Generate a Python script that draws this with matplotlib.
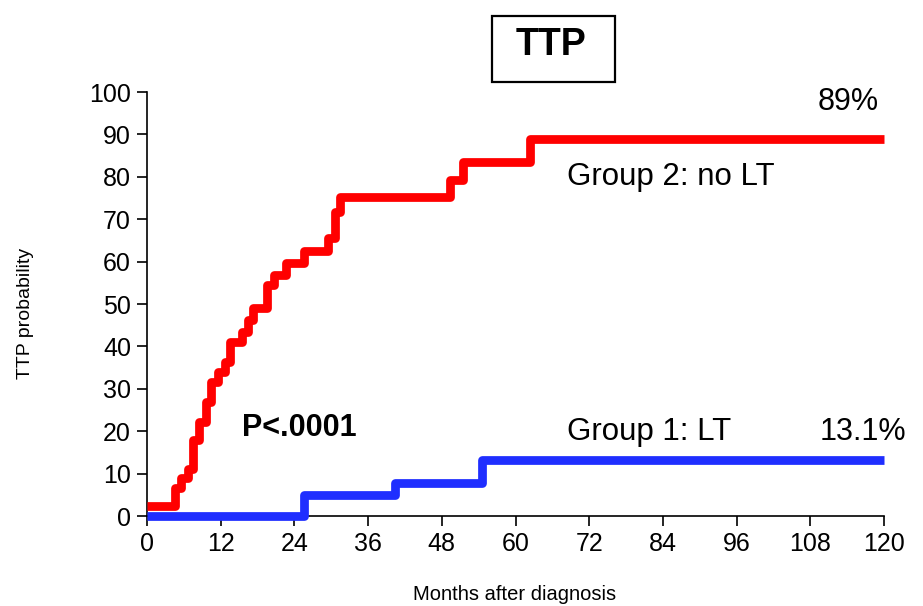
import matplotlib
matplotlib.use("Agg")
import matplotlib.pyplot as plt
from matplotlib.patches import Rectangle

plt.rcParams['font.family'] = ['Liberation Sans', 'DejaVu Sans']

# Group 2: no LT (red) step curve
g2_months = [0, 4.6, 5.6, 6.7, 7.5, 8.4, 9.6, 10.4, 11.6, 12.7, 13.5, 15.4, 16.4, 17.3,
             19.5, 20.6, 22.7, 25.5, 29.5, 30.6, 31.4, 49.3, 51.5, 62.4, 120]
g2_prob = [2.3, 6.6, 8.9, 11.2, 17.9, 22.2, 27.0, 31.7, 34.0, 36.4, 41.1, 43.5, 46.2, 49.0,
           54.5, 56.8, 59.6, 62.5, 65.5, 71.8, 75.3, 79.2, 83.5, 89.0, 89.0]

# Group 1: LT (blue) step curve
g1_months = [0, 25.5, 40.4, 54.5, 120]
g1_prob = [0, 5.0, 7.7, 13.1, 13.1]

xticks = list(range(0, 121, 12))
yticks = list(range(0, 101, 10))

W, H = 923, 606
fig = plt.figure(figsize=(W / 100, H / 100), dpi=100)
ax = fig.add_axes([147 / W, 1 - 516 / H, (884 - 147) / W, (516 - 92) / H])

ax.step(g1_months, g1_prob, where='post', color='#1f2eff', lw=6.3, clip_on=False,
        solid_joinstyle='round', solid_capstyle='butt', zorder=3)
ax.step(g2_months, g2_prob, where='post', color='#ff0000', lw=6.3, clip_on=False,
        solid_joinstyle='round', solid_capstyle='butt', zorder=4)

ax.set_xlim(0, 120)
ax.set_ylim(0, 100)
ax.set_xticks(xticks)
ax.set_yticks(yticks)
ax.tick_params(axis='both', direction='out', length=7.5, width=1.2, labelsize=18, pad=4)
ax.spines['top'].set_visible(False)
ax.spines['right'].set_visible(False)
ax.spines['left'].set_linewidth(1.2)
ax.spines['bottom'].set_linewidth(1.2)


def fx(px):
    return px / W


def fy(py):
    return 1 - py / H


fig.text(fx(25), fy(313), 'TTP probability', rotation=90, ha='center', va='center', fontsize=14)
fig.text(fx(515), fy(600), 'Months after diagnosis', ha='center', va='baseline', fontsize=14.5)

# title with box
fig.patches.append(Rectangle((fx(492), fy(81.5)), (615 - 492) / W, (81.5 - 15.5) / H,
                             transform=fig.transFigure, fill=False, ec='black', lw=1.6))
fig.text(fx(551), fy(55), 'TTP', ha='center', va='baseline', fontsize=27, fontweight='bold')

fig.text(fx(879), fy(110), '89%', ha='right', va='baseline', fontsize=22)
fig.text(fx(567), fy(184.5), 'Group 2: no LT', ha='left', va='baseline', fontsize=22.5)
fig.text(fx(567), fy(440), 'Group 1: LT', ha='left', va='baseline', fontsize=22.5)
fig.text(fx(906), fy(440), '13.1%', ha='right', va='baseline', fontsize=22)
fig.text(fx(242), fy(436.5), 'P<.0001', ha='left', va='baseline', fontsize=22, fontweight='bold')

fig.savefig('out.png', dpi=100)
